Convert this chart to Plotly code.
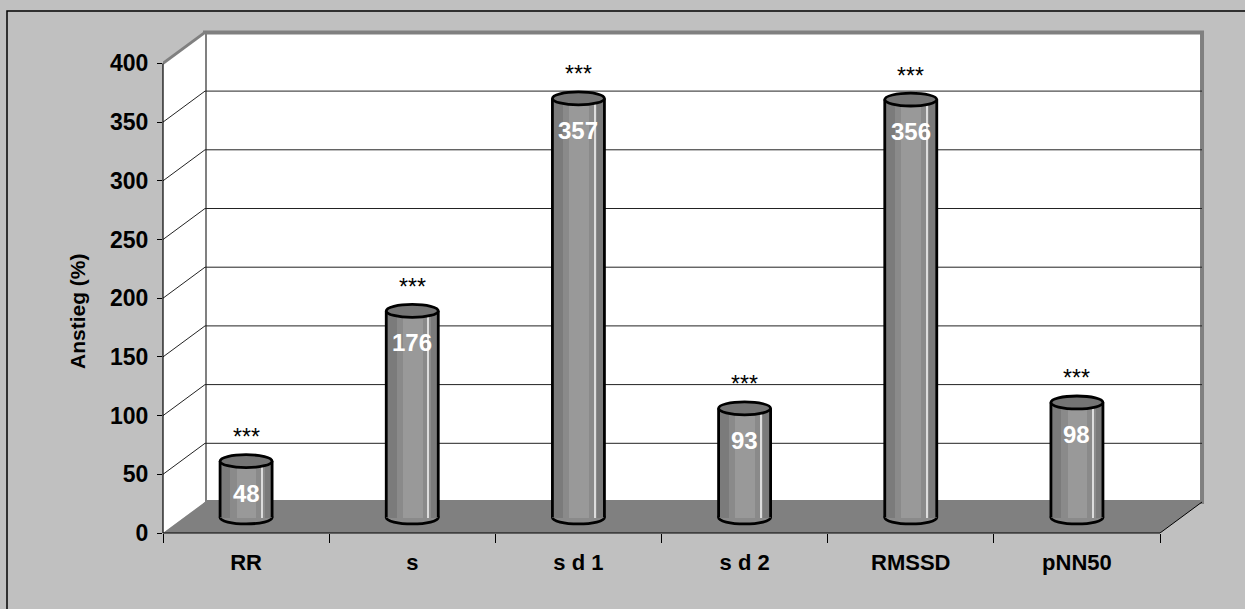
import plotly.graph_objects as go

# ---------------- data ----------------
categories = ["RR", "s", "s d 1", "s d 2", "RMSSD", "pNN50"]
values = [48, 176, 357, 93, 356, 98]
significance = ["***", "***", "***", "***", "***", "***"]
y_ticks = [0, 50, 100, 150, 200, 250, 300, 350, 400]
y_title = "Anstieg (%)"

# ---------------- layout geometry ----------------
W, H = 1245, 609
L, R, T, B = 163, 35, 28, 76
PX_PER_UNIT = 1.174          # pixels per value unit
CAT_PX = 166.17              # pixels per category
DX_PX, DY_PX = 42, 31        # depth offset of back wall
plot_w = W - L - R
plot_h = H - T - B
y_top = plot_h / PX_PER_UNIT
x_top = -0.5 + plot_w / CAT_PX
DX = DX_PX / CAT_PX
DY = DY_PX / PX_PER_UNIT
n = len(categories)
x_idx = list(range(n))
x_lo, x_hi = -0.5, n - 0.5
y_max = y_ticks[-1]
BW = 0.313                   # bar width (category units)
EH = 5.5                     # half height of cylinder ellipse (value units)
TITLE_X_PX, TITLE_Y_PX = 77, 311

FONT = "Liberation Sans, Arial, sans-serif"
WALL_EDGE = "#808080"
FLOOR = "#808080"
BG = "#C0C0C0"

fig = go.Figure()

# invisible traces registering the subplots
fig.add_trace(go.Scatter(x=[], y=[], xaxis="x", yaxis="y", hoverinfo="skip", showlegend=False))
fig.add_trace(go.Scatter(x=[], y=[], xaxis="x2", yaxis="y", hoverinfo="skip", showlegend=False))

# cylinder body with simple shading (several overlaid bars)
layers = [
    dict(width=BW, offset=-BW / 2, color="#8a8a8a"),
    dict(width=BW * 0.20, offset=-BW / 2, color="#7b7b7b"),
    dict(width=BW * 0.38, offset=-BW * 0.18, color="#999999"),
    dict(width=BW * 0.14, offset=BW * 0.36, color="#7a7a7a"),
    dict(width=BW * 0.025, offset=BW * 0.30, color="#dcdcdc"),
]
for ly in layers:
    fig.add_trace(go.Bar(
        x=x_idx, y=values, xaxis="x", yaxis="y2",
        width=ly["width"], offset=ly["offset"],
        marker=dict(color=ly["color"], line=dict(width=0)),
        hoverinfo="skip", showlegend=False,
    ))

shapes = []
# outer chart border (partially outside the page)
shapes.append(dict(type="rect", xref="paper", yref="paper",
                   x0=(7 - L) / plot_w, x1=1.3, y0=-0.4, y1=(H - B - 11) / plot_h,
                   line=dict(color="black", width=1.5), fillcolor="rgba(0,0,0,0)", layer="below"))
# back wall
shapes.append(dict(type="rect", xref="x", yref="y",
                   x0=x_lo + DX, x1=x_hi + DX, y0=DY, y1=y_max + DY,
                   fillcolor="white", line=dict(color=WALL_EDGE, width=4), layer="below"))
# left wall
shapes.append(dict(type="path", xref="x", yref="y",
                   path=f"M {x_lo} 0 L {x_lo} {y_max} L {x_lo + DX} {y_max + DY} L {x_lo + DX} {DY} Z",
                   fillcolor="white", line=dict(width=0), layer="below"))
shapes.append(dict(type="line", xref="x", yref="y",
                   x0=x_lo, y0=y_max, x1=x_lo + DX, y1=y_max + DY,
                   line=dict(color=WALL_EDGE, width=3), layer="below"))
# floor
shapes.append(dict(type="path", xref="x", yref="y",
                   path=f"M {x_lo} 0 L {x_hi} 0 L {x_hi + DX} {DY} L {x_lo + DX} {DY} Z",
                   fillcolor=FLOOR, line=dict(width=0), layer="below"))
shapes.append(dict(type="line", xref="x", yref="y",
                   x0=x_hi, y0=0, x1=x_hi + DX, y1=DY,
                   line=dict(color="black", width=1), layer="below"))
# gridlines on back and left wall
for v in y_ticks[1:-1]:
    shapes.append(dict(type="line", xref="x", yref="y",
                       x0=x_lo + DX, x1=x_hi + DX, y0=v + DY, y1=v + DY,
                       line=dict(color="#222222", width=1), layer="below"))
    shapes.append(dict(type="line", xref="x", yref="y",
                       x0=x_lo, x1=x_lo + DX, y0=v, y1=v + DY,
                       line=dict(color="#222222", width=1), layer="below"))
# front axes lines
shapes.append(dict(type="line", xref="x", yref="paper",
                   x0=x_lo, x1=x_hi, y0=0, y1=0,
                   line=dict(color="black", width=1.2), layer="above"))
shapes.append(dict(type="line", xref="paper", yref="y",
                   x0=0, x1=0, y0=0, y1=y_max,
                   line=dict(color="black", width=1.2), layer="above"))

# cylinder bottoms (below bars), outlines and tops (above bars)
for i, v in zip(x_idx, values):
    shapes.append(dict(type="circle", xref="x", yref="y2",
                       x0=i - BW / 2, x1=i + BW / 2, y0=-EH, y1=EH,
                       fillcolor="#8a8a8a", line=dict(color="black", width=2.8), layer="below"))
for i, v in zip(x_idx, values):
    for side in (-1, 1):
        shapes.append(dict(type="line", xref="x", yref="y2",
                           x0=i + side * BW / 2, x1=i + side * BW / 2, y0=0, y1=v,
                           line=dict(color="black", width=2.8), layer="above"))
    shapes.append(dict(type="circle", xref="x", yref="y2",
                       x0=i - BW / 2, x1=i + BW / 2, y0=v - EH, y1=v + EH,
                       fillcolor="#747474", line=dict(color="black", width=2.8), layer="above"))

annotations = []
for i, v, s in zip(x_idx, values, significance):
    annotations.append(dict(x=i, y=v, xref="x", yref="y2", text=s, showarrow=False,
                            yshift=24, font=dict(family=FONT, size=23, color="black")))
    annotations.append(dict(x=i, y=v, xref="x", yref="y2", text=str(v), showarrow=False,
                            yshift=-32, font=dict(family=FONT, size=24, color="white", weight="bold")))
# y-axis title
annotations.append(dict(text=y_title, xref="paper", yref="paper",
                        x=(TITLE_X_PX - L) / plot_w, y=(H - B - TITLE_Y_PX) / plot_h,
                        xanchor="center", yanchor="middle", textangle=-90, showarrow=False,
                        font=dict(family=FONT, size=21, color="black", weight="bold")))

fig.update_layout(
    width=W, height=H,
    margin=dict(l=L, r=R, t=T, b=B, autoexpand=False),
    paper_bgcolor=BG, plot_bgcolor=BG,
    barmode="overlay", bargap=0,
    showlegend=False,
    font=dict(family=FONT, color="black"),
    shapes=shapes, annotations=annotations,
    xaxis=dict(range=[x_lo, x_top], tickvals=x_idx, ticktext=categories,
               ticks="", showgrid=False, zeroline=False, showline=False,
               tickfont=dict(family=FONT, size=22, color="black", weight="bold"),
               ticklabelstandoff=14, fixedrange=True),
    xaxis2=dict(range=[x_lo, x_top], overlaying="x", anchor="y", side="bottom",
                tickvals=[x_lo + k for k in range(n + 1)], ticks="outside", ticklen=9,
                tickcolor="black", tickwidth=1.2, showticklabels=False,
                showgrid=False, zeroline=False, showline=False, fixedrange=True),
    yaxis=dict(range=[0, y_top], tickvals=y_ticks, ticks="outside", ticklen=5,
               tickcolor="black", tickwidth=1.2, showgrid=False, zeroline=False, showline=False,
               tickfont=dict(family=FONT, size=23, color="black", weight="bold"),
               ticklabelstandoff=4, fixedrange=True),
    yaxis2=dict(range=[-DY / 2, y_top - DY / 2], overlaying="y", anchor="x", visible=False,
                fixedrange=True),
)

fig.write_html("out.html", config={"displayModeBar": False})
